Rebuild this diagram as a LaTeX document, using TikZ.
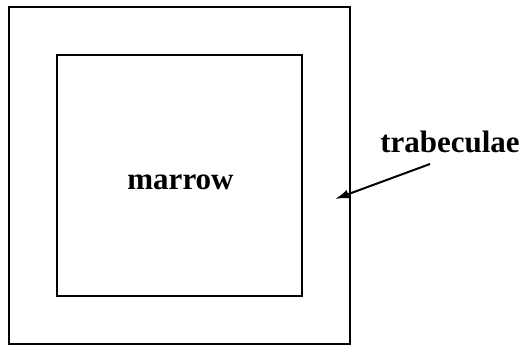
\documentclass[tikz,border=0pt]{standalone}
\usepackage{fontspec}
\setmainfont{Liberation Serif}
\usetikzlibrary{arrows.meta}
\begin{document}
\begin{tikzpicture}[x=1pt,y=-1pt,
  wall/.style={draw=black,line width=2.2pt,inner sep=0pt,outer sep=0pt},
  lbl/.style={font=\fontsize{31}{36}\selectfont\bfseries,inner sep=0pt,anchor=base},
  pointer/.style={-{Latex[length=14pt,width=9pt]},line width=2pt}]
  \useasboundingbox (0,0) rectangle (524,352);
  % bone cross-section: outer wall and marrow cavity
  \node[wall,minimum width=341pt,minimum height=337pt] (outer) at (179.5,175.5) {};
  \node[wall,minimum width=245pt,minimum height=241pt] (inner) at (179.5,175.5) {};
  \node[lbl] (marrow) at (180.5,190) {marrow};
  \node[lbl] (trab) at (450,153) {trabeculae};
  \coordinate (tail) at (430,164);
  \coordinate (tip) at (335,199);
  \draw[pointer] (tail) -- (tip);
\end{tikzpicture}
\end{document}
